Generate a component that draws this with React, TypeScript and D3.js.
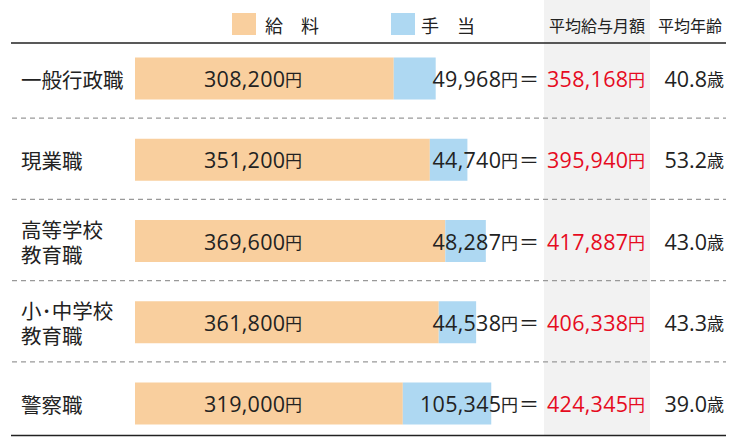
import React from "react";
import * as d3 from "d3";

const categories: string[][] = [
  ["一般行政職"],
  ["現業職"],
  ["高等学校", "教育職"],
  ["小･中学校", "教育職"],
  ["警察職"],
];
const salary = [308200, 351200, 369600, 361800, 319000];
const allowance = [49968, 44740, 48287, 44538, 105345];
const totals = [358168, 395940, 417887, 406338, 424345];
const ages = [40.8, 53.2, 43.0, 43.3, 39.0];
const legendLabels = ["給　料", "手　当"];
const headers = ["平均給与月額", "平均年齢"];

const W = 731;
const H = 440;
const FONT = "'Noto Sans CJK JP', 'Noto Sans', sans-serif";
const NUMFONT = "'Open Sans', 'Noto Sans', sans-serif";
const C_SAL = "#F9CF9E";
const C_ALW = "#AED8F2";
const C_RED = "#E60B1F";
const C_TXT = "#222";
const NUM_SIZE = 21.5;
const UNIT_SIZE = 17;

// width of a number string in the reference's (wide, tabular) digit font
const numWidth = (s: string) =>
  Array.from(s).reduce((w, ch) => w + (ch === "," ? 6 : ch === "." ? 5 : 12.5), 0);

function Num({
  x,
  y,
  str,
  anchor,
  fill,
}: {
  x: number;
  y: number;
  str: string;
  anchor: "start" | "end";
  fill: string;
}) {
  return (
    <text
      x={x}
      y={y}
      textAnchor={anchor}
      dominantBaseline="central"
      fontFamily={NUMFONT}
      fontSize={NUM_SIZE}
      fill={fill}
      textLength={numWidth(str)}
      lengthAdjust="spacing"
    >
      {str}
    </text>
  );
}

export default function App() {
  const x = d3.scaleLinear().domain([0, 430000]).range([135, 496]);
  const y = d3
    .scalePoint<number>()
    .domain(d3.range(categories.length))
    .range([78.5, 403.5]);
  const barH = 42;
  const fmt = d3.format(",");
  const topY = 43;
  const botY = 435.5;

  return (
    <svg
      width={W}
      height={H}
      style={{ position: "absolute", left: 0, top: 0 }}
      fontFamily={FONT}
    >
      <rect x={0} y={0} width={W} height={H} fill="#fff" />
      {/* gray column */}
      <rect x={544} y={0} width={106} height={botY} fill="#F2F2F2" />

      {/* legend */}
      <rect x={232} y={13} width={24} height={22} fill={C_SAL} />
      <text x={265} y={25} dominantBaseline="central" fontSize={18} fill={C_TXT}>
        {legendLabels[0]}
      </text>
      <rect x={391} y={13} width={24} height={22} fill={C_ALW} />
      <text x={421} y={25} dominantBaseline="central" fontSize={18} fill={C_TXT}>
        {legendLabels[1]}
      </text>

      {/* headers */}
      <text x={597} y={25} textAnchor="middle" dominantBaseline="central" fontSize={16} fill={C_TXT}>
        {headers[0]}
      </text>
      <text x={690} y={25} textAnchor="middle" dominantBaseline="central" fontSize={16} fill={C_TXT}>
        {headers[1]}
      </text>

      {/* top & bottom lines */}
      <line x1={11} x2={726} y1={topY} y2={topY} stroke="#222" strokeWidth={1.5} />
      <line x1={11} x2={726} y1={botY} y2={botY} stroke="#222" strokeWidth={1.5} />

      {/* separators */}
      {d3.range(categories.length - 1).map((i) => {
        const yy = (y(i)! + y(i + 1)!) / 2 - 1;
        return (
          <line
            key={"sep" + i}
            x1={12}
            x2={726}
            y1={yy}
            y2={yy}
            stroke="#999"
            strokeWidth={1.3}
            strokeDasharray="5,4"
          />
        );
      })}

      {categories.map((cat, i) => {
        const cy = y(i)!;
        const s = salary[i];
        const a = allowance[i];
        const sStr = fmt(s);
        const aStr = fmt(a);
        const tStr = fmt(totals[i]);
        const ageStr = ages[i].toFixed(1);
        const sW = numWidth(sStr);
        const sX = 253 - (sW + UNIT_SIZE) / 2;
        return (
          <g key={"row" + i}>
            <text x={21} y={cy - (cat.length - 1) * 12.5} dominantBaseline="central" fontSize={20.5} fill={C_TXT}>
              {cat.map((ln, j) => (
                <tspan key={j} x={21} dy={j === 0 ? 0 : 25}>
                  {ln}
                </tspan>
              ))}
            </text>
            <rect x={x(0)} y={cy - barH / 2} width={x(s) - x(0)} height={barH} fill={C_SAL} />
            <rect x={x(s)} y={cy - barH / 2} width={x(s + a) - x(s)} height={barH} fill={C_ALW} />
            {/* salary label */}
            <Num x={sX} y={cy} str={sStr} anchor="start" fill={C_TXT} />
            <text x={sX + sW} y={cy} dominantBaseline="central" fontSize={UNIT_SIZE} fill={C_TXT}>
              円
            </text>
            {/* allowance label */}
            <Num x={501} y={cy} str={aStr} anchor="end" fill={C_TXT} />
            <text x={518} y={cy} textAnchor="end" dominantBaseline="central" fontSize={UNIT_SIZE} fill={C_TXT}>
              円
            </text>
            <text x={529} y={cy} textAnchor="middle" dominantBaseline="central" fontSize={20} fill={C_TXT}>
              ＝
            </text>
            {/* total */}
            <Num x={628} y={cy} str={tStr} anchor="end" fill={C_RED} />
            <text x={645} y={cy} textAnchor="end" dominantBaseline="central" fontSize={UNIT_SIZE} fill={C_RED}>
              円
            </text>
            {/* age */}
            <Num x={707} y={cy} str={ageStr} anchor="end" fill={C_TXT} />
            <text x={724} y={cy} textAnchor="end" dominantBaseline="central" fontSize={UNIT_SIZE} fill={C_TXT}>
              歳
            </text>
          </g>
        );
      })}
    </svg>
  );
}
